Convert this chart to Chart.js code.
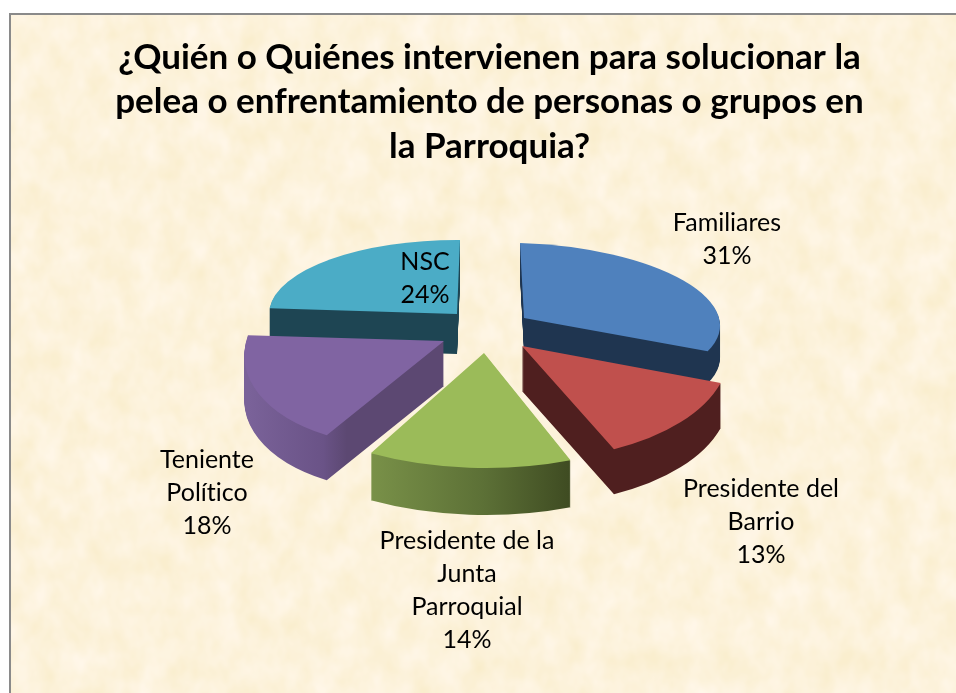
<!DOCTYPE html>
<html lang="es">
<head>
<meta charset="utf-8">
<title>Pie chart</title>
<script src="https://cdn.jsdelivr.net/npm/chart.js@4"></script>
<style>
html,body{margin:0;padding:0;background:#fff;overflow:hidden;width:956px;height:693px}
#frame{position:absolute;left:9px;top:13px;width:960px;height:700px;border:2px solid #8a8a8a;box-sizing:border-box;overflow:hidden;background:#fdf3d6}
#frame svg{position:absolute;left:0;top:0;width:100%;height:100%}
#chart{position:absolute;left:0;top:0}
</style>
</head>
<body>
<div id="frame">
<svg xmlns="http://www.w3.org/2000/svg" aria-hidden="true">
<filter id="parchment" x="0" y="0" width="100%" height="100%" color-interpolation-filters="sRGB">
<feTurbulence type="fractalNoise" baseFrequency="0.04 0.03" numOctaves="3" seed="7"/>
<feColorMatrix type="matrix" values="0.03 0 0 0 0.975  0.05 0 0 0 0.925  0.15 0 0 0 0.785  0 0 0 0 1"/>
</filter>
<rect width="100%" height="100%" filter="url(#parchment)"/>
</svg>
</div>
<canvas id="chart" width="956" height="693" style="position:absolute;left:0;top:0;width:956px;height:693px"></canvas>
<script>
// Data
const categories = ["Familiares", "Presidente del Barrio", "Presidente de la Junta Parroquial", "Teniente Político", "NSC"];
const values = [31, 13, 14, 18, 24];
const titleLines = ["¿Quién o Quiénes intervienen para solucionar la", "pelea o enfrentamiento de personas o grupos en", "la Parroquia?"];
const labelLines = [["Familiares"], ["Presidente del", "Barrio"], ["Presidente de la", "Junta", "Parroquial"], ["Teniente", "Político"], ["NSC"]];

// Style
const topColors = ["#4F81BD", "#C0504D", "#9BBB59", "#8064A2", "#4BACC6"];
const sideStops = [
  [[0, "#1f3550"], [1, "#1f3550"]],
  [[0, "#4f1f1f"], [1, "#4f1f1f"]],
  [[0.25, "#7a9249"], [0.5, "#5c7036"], [0.7, "#3c4820"]],
  [[0.03, "#7a6299"], [0.25, "#6a5387"], [0.3, "#5c4872"], [1, "#5c4872"]],
  [[0, "#1e4553"], [1, "#1e4553"]]
];
const pieCenter = [489, 333];
const explodeShift = [[35, -15], [33, 13], [-5, 20], [-45, 8], [-32, -19]];
const tiltX = [196, 207, 235, 198, 188];
const tiltY = [75, 113, 115, 107, 74];
const shearX = [4, 17, 0, -25, -3];
const shearY = [6, -5, 1, -1, 1];
const sideDepth = [32, 45, 47, 45, 40];
const paintOrder = [4, 0, 3, 1, 2];
const labelCenters = [[727, 223], [761, 489], [467, 541], [207, 460], [425, 262]];
const labelLineHeight = 33;
const labelFont = '25px Lato, "Open Sans", sans-serif';

const pieTilt = {
  id: "pieTilt",
  beforeDatasetDraw(chart, args) {
    const ctx = chart.ctx;
    const meta = args.meta;
    paintOrder.forEach(i => {
      const el = meta.data[i];
      const R = el.outerRadius;
      const plain = {borderWidth: 0, borderColor: "transparent", borderAlign: "center", borderJoinStyle: "round",
        borderDash: [], borderDashOffset: 0, spacing: 0, offset: 0, circular: true, borderRadius: 0};
      const apply = dy => {
        ctx.setTransform(tiltX[i] / R, shearY[i] / R, shearX[i] / R, tiltY[i] / R,
          pieCenter[0] + explodeShift[i][0] - (tiltX[i] * el.x + shearX[i] * el.y) / R,
          pieCenter[1] + explodeShift[i][1] + dy - (shearY[i] * el.x + tiltY[i] * el.y) / R);
      };
      ctx.save();
      const g = ctx.createLinearGradient(el.x - R, 0, el.x + R, 0);
      sideStops[i].forEach(s => g.addColorStop(s[0], s[1]));
      el.options = Object.assign({}, plain, {backgroundColor: g});
      for (let d = sideDepth[i]; d > 0; d--) { apply(d); el.draw(ctx); }
      apply(0);
      el.options = Object.assign({}, plain, {backgroundColor: topColors[i]});
      el.draw(ctx);
      ctx.restore();
    });
    return false;
  },
  afterDraw(chart) {
    const ctx = chart.ctx;
    ctx.save();
    ctx.font = labelFont;
    ctx.textRendering = "optimizeSpeed";
    ctx.fillStyle = "#000";
    ctx.textAlign = "center";
    ctx.textBaseline = "middle";
    const total = values.reduce((a, b) => a + b, 0);
    labelLines.forEach((lines, i) => {
      const all = lines.concat([Math.round(values[i] / total * 100) + "%"]);
      all.forEach((t, k) => ctx.fillText(t, labelCenters[i][0], labelCenters[i][1] + k * labelLineHeight));
    });
    ctx.restore();
  }
};

new Chart(document.getElementById("chart"), {
  type: "pie",
  data: {labels: categories, datasets: [{data: values, backgroundColor: topColors, borderWidth: 0}]},
  plugins: [pieTilt],
  options: {
    responsive: false,
    animation: false,
    layout: {padding: {left: 23, top: 35, bottom: 100, right: 0}},
    plugins: {
      legend: {display: false},
      tooltip: {enabled: false},
      title: {display: true, text: titleLines, color: "#000",
        font: {family: 'Lato, "Open Sans", sans-serif', size: 35, weight: "bold", lineHeight: 1.28}, padding: 0}
    }
  }
});
</script>
</body>
</html>
